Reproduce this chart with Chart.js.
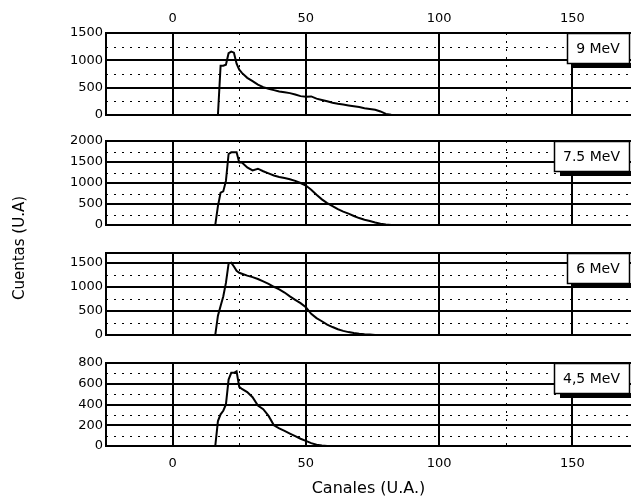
<!DOCTYPE html>
<html>
<head>
<meta charset="utf-8">
<script src="https://cdn.jsdelivr.net/npm/chart.js@4.4.1/dist/chart.umd.min.js"></script>
<style>
  body { margin: 0; background: #fff; }
  #wrap { position: relative; width: 631px; height: 503px; }
  canvas { position: absolute; left: 0; top: 0; }
</style>
</head>
<body>
<div id="wrap">
  <canvas id="p1" width="631" height="503"></canvas>
  <canvas id="p2" width="631" height="503"></canvas>
  <canvas id="p3" width="631" height="503"></canvas>
  <canvas id="p4" width="631" height="503"></canvas>
</div>
<script>
// channel numbers (x) shared by all four spectra
const channels = [0, 16, 17, 18, 19, 20, 21, 22, 23, 24, 25, 26,
  28, 30, 32, 34, 36, 38, 40, 42, 44, 46, 48, 50, 52, 54, 56, 58,
  60, 62, 64, 66, 68, 70, 72, 74, 76, 78, 80, 82, 84, 86, 88, 90, 172];

// counts per channel
const counts9 = [0, 0, 0, 900, 900, 920, 1130, 1160, 1140, 940, 830, 770,
  680, 620, 555, 510, 480, 455, 430, 415, 400, 375, 345, 335, 340, 300, 275, 250,
  225, 205, 190, 175, 160, 145, 125, 110, 95, 65, 20, 5, 0, 0, 0, 0, 0];
const counts75 = [0, 0, 450, 770, 800, 1050, 1690, 1730, 1730, 1730, 1490, 1490,
  1370, 1300, 1340, 1280, 1230, 1180, 1145, 1120, 1090, 1050, 1000, 940, 840, 720, 610, 520,
  450, 380, 320, 270, 215, 165, 125, 95, 60, 30, 10, 0, 0, 0, 0, 0, 0];
const counts6 = [0, 0, 400, 600, 800, 1080, 1480, 1500, 1420, 1330, 1290, 1270,
  1230, 1200, 1160, 1110, 1060, 1000, 945, 880, 800, 730, 660, 575, 440, 350, 285, 215,
  165, 120, 85, 60, 40, 25, 15, 8, 0, 0, 0, 0, 0, 0, 0, 0, 0];
const counts45 = [0, 0, 240, 305, 340, 400, 640, 705, 705, 720, 570, 550,
  520, 470, 390, 355, 290, 200, 170, 145, 120, 95, 70, 50, 28, 12, 5, 0,
  0, 0, 0, 0, 0, 0, 0, 0, 0, 0, 0, 0, 0, 0, 0, 0, 0];

const energyLabels = ['9 MeV', '7.5 MeV', '6 MeV', '4,5 MeV'];

const xTicks = [0, 50, 100, 150];
const xMinor = [25, 125];

const yTicks9 = [0, 500, 1000, 1500];
const yTicks75 = [0, 500, 1000, 1500, 2000];
const yTicks6 = [0, 500, 1000, 1500];
const yTicks45 = [0, 200, 400, 600, 800];
const yMax = [1500, 2000, 1700, 800];
const yMinor9 = [250, 750, 1250];
const yMinor75 = [250, 750, 1250, 1750];
const yMinor6 = [250, 750, 1250];
const yMinor45 = [100, 300, 500, 700];

Chart.defaults.font.family = '"DejaVu Sans", sans-serif';
Chart.defaults.color = '#000';

// dotted minor grid + the energy label box
const panelDecor = {
  id: 'panelDecor',
  beforeDatasetsDraw(chart, args, o) {
    const { ctx, chartArea: a, scales: { x, y } } = chart;
    ctx.save();
    ctx.strokeStyle = '#000';
    ctx.lineWidth = 1;
    ctx.setLineDash([2, 6]);
    ctx.beginPath();
    o.xMinor.forEach(v => {
      const px = Math.round(x.getPixelForValue(v)) + 0.5;
      ctx.moveTo(px, a.top); ctx.lineTo(px, a.bottom);
    });
    o.yMinor.forEach(v => {
      const py = Math.round(y.getPixelForValue(v)) + 0.5;
      ctx.moveTo(a.left, py); ctx.lineTo(a.right, py);
    });
    ctx.stroke();
    ctx.restore();
  },
  afterDatasetsDraw(chart, args, o) {
    const { ctx, chartArea: a } = chart;
    ctx.save();
    ctx.font = '14px "DejaVu Sans"';
    const w = Math.round(ctx.measureText(o.label).width + 18), h = 30;
    const bx = Math.round(a.right - 2 - w), by = Math.round(a.top);
    ctx.fillStyle = '#000';
    ctx.fillRect(bx + 6, by + h, w, 5);
    ctx.fillStyle = '#fff';
    ctx.fillRect(bx, by, w, h);
    ctx.strokeStyle = '#000';
    ctx.lineWidth = 1.5;
    ctx.strokeRect(bx + 0.5, by + 0.5, w, h);
    ctx.fillStyle = '#000';
    ctx.textAlign = 'center';
    ctx.textBaseline = 'middle';
    ctx.fillText(o.label, bx + w / 2, by + h / 2 + 1);
    if (o.yTitle) {
      ctx.font = '15px "DejaVu Sans"';
      ctx.translate(20, 248);
      ctx.rotate(-Math.PI / 2);
      ctx.fillText(o.yTitle, 0, 0);
    }
    ctx.restore();
  }
};

function makePanel(id, values, yTicks, max, yMinor, label, p) {
  const allTicks = yTicks[yTicks.length - 1] < max ? yTicks.concat([max]) : yTicks;
  return new Chart(document.getElementById(id), {
    type: 'line',
    data: {
      datasets: [{
        data: channels.map((c, i) => ({ x: c, y: values[i] })),
        borderColor: '#000',
        borderWidth: 2,
        pointRadius: 0,
        tension: 0,
        fill: false
      }]
    },
    options: {
      responsive: false,
      animation: false,
      events: [],
      layout: { padding: { top: p.top, bottom: p.bottom, left: 0, right: 0 } },
      plugins: {
        legend: { display: false },
        tooltip: { enabled: false },
        panelDecor: { xMinor: xMinor, yMinor: yMinor, label: label, yTitle: p.yTitle }
      },
      scales: {
        x: {
          type: 'linear',
          min: -25,
          max: 172,
          position: p.xPos,
          afterBuildTicks: s => { s.ticks = xTicks.map(v => ({ value: v })); },
          afterFit: s => { s.height = p.xHeight; },
          ticks: { display: p.xLabels, autoSkip: false, maxRotation: 0, padding: p.xPad, font: { size: 13 } },
          grid: { color: '#000', lineWidth: 2, drawTicks: false },
          border: { color: '#000', width: 2 },
          title: {
            display: !!p.xTitle,
            text: p.xTitle || '',
            font: { size: 16 },
            padding: { top: 0, bottom: 5 }
          }
        },
        y: {
          min: 0,
          max: max,
          afterBuildTicks: s => { s.ticks = allTicks.map(v => ({ value: v })); },
          afterFit: s => { s.width = 106; },
          ticks: {
            autoSkip: false,
            padding: 3,
            font: { size: 13 },
            callback: v => yTicks.includes(v) ? String(v) : ''
          },
          grid: { color: '#000', lineWidth: 2, drawTicks: false },
          border: { color: '#000', width: 2 }
        }
      }
    },
    plugins: [panelDecor]
  });
}

makePanel('p1', counts9, yTicks9, yMax[0], yMinor9, energyLabels[0],
  { top: 0, bottom: 388, xPos: 'top', xHeight: 33, xLabels: true, xPad: 7 });
makePanel('p2', counts75, yTicks75, yMax[1], yMinor75, energyLabels[1],
  { top: 141, bottom: 278, xPos: 'bottom', xHeight: 0, xLabels: false, xPad: 10 });
makePanel('p3', counts6, yTicks6, yMax[2], yMinor6, energyLabels[2],
  { top: 253, bottom: 168, xPos: 'bottom', xHeight: 0, xLabels: false, xPad: 10 });
makePanel('p4', counts45, yTicks45, yMax[3], yMinor45, energyLabels[3],
  { top: 363, bottom: 0, xPos: 'bottom', xHeight: 57, xLabels: true, xPad: 10,
    xTitle: 'Canales (U.A.)', yTitle: 'Cuentas (U.A)' });
</script>
</body>
</html>
